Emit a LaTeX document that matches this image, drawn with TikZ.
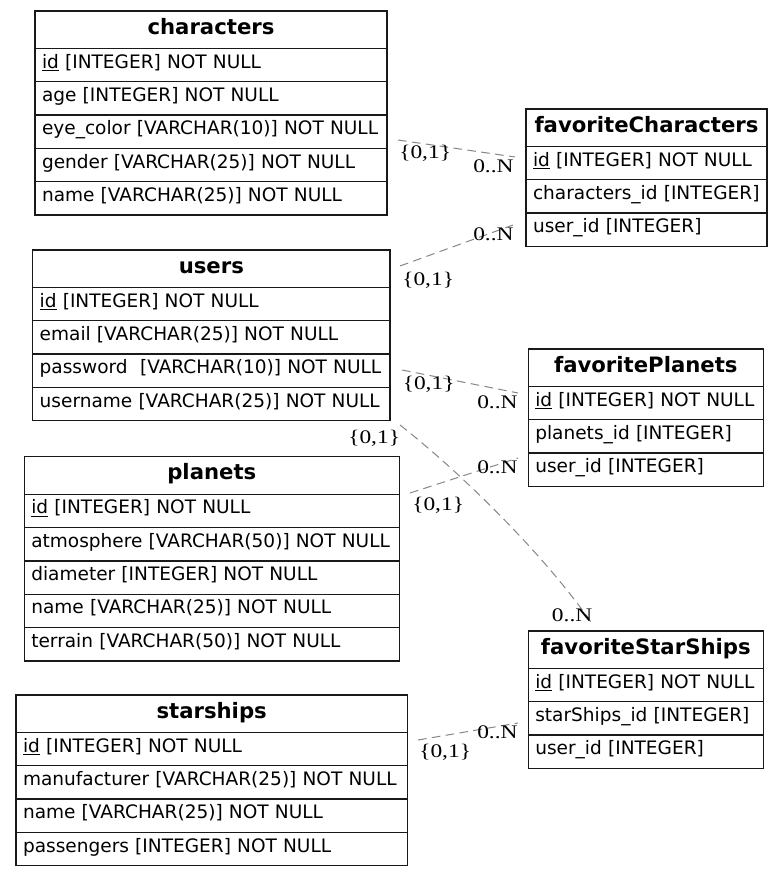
\documentclass[tikz,border=0pt]{standalone}
\usepackage{fontspec}
\setmainfont{DejaVu Sans}
\newfontfamily\lblfont[FakeStretch=1.22]{Liberation Serif}
\tikzset{
  tbl/.style={draw=black!90, line width=1pt, anchor=north west, inner xsep=5.25pt, inner ysep=0pt, outer sep=0pt},
  hdr/.style={tbl, minimum height=28.1pt, align=center,
    font=\fontsize{15.9pt}{18pt}\selectfont\bfseries, text height=10pt, text depth=3.2pt},
  fieldrow/.style={tbl, minimum height=25pt, align=left,
    font=\fontsize{13.9pt}{16pt}\selectfont, text height=10pt, text depth=5.5pt},
  card/.style={anchor=base west, inner sep=0pt, font=\lblfont\fontsize{14.4pt}{16pt}\selectfont},
  rel/.style={draw=black!47, line width=0.75pt, dash pattern=on 6.5pt off 4pt}
}
% #1 name, #2 title, #3 position, #4 text width, #5 rows
\newcommand\ertable[5]{%
  \node[hdr, text width=#4, alias=#1-0] (#1) at #3 {#2};
  \foreach \r [count=\i] in {#5} {%
    \pgfmathtruncatemacro\prev{\i-1}%
    \node[fieldrow, text width=#4] (#1-\i) at (#1-\prev.south west) {\r};
  }%
}
\begin{document}
\begin{tikzpicture}[x=0.75pt, y=-0.75pt]
\useasboundingbox (0,0) rectangle (783,877);
\fill[white] (0,0) rectangle (783,877);

\ertable{characters}{characters}{(35,11)}{253.5pt}{%
  \underline{id} [INTEGER] NOT NULL, age [INTEGER] NOT NULL,
  eye\_color [VARCHAR(10)] NOT NULL, gender [VARCHAR(25)] NOT NULL,
  name [VARCHAR(25)] NOT NULL}
\ertable{favoriteCharacters}{favoriteCharacters}{(526,109)}{170.25pt}{%
  \underline{id} [INTEGER] NOT NULL, characters\_id [INTEGER], user\_id [INTEGER]}
\ertable{users}{users}{(32.7,250)}{257.5pt}{%
  \underline{id} [INTEGER] NOT NULL, email [VARCHAR(25)] NOT NULL,
  password\ \ [VARCHAR(10)] NOT NULL, username [VARCHAR(25)] NOT NULL}
\ertable{favoritePlanets}{favoritePlanets}{(528.3,349)}{165.75pt}{%
  \underline{id} [INTEGER] NOT NULL, planets\_id [INTEGER], user\_id [INTEGER]}
\ertable{planets}{planets}{(24.3,456.7)}{270.75pt}{%
  \underline{id} [INTEGER] NOT NULL, atmosphere [VARCHAR(50)] NOT NULL,
  diameter [INTEGER] NOT NULL, name [VARCHAR(25)] NOT NULL,
  terrain [VARCHAR(50)] NOT NULL}
\ertable{favoriteStarShips}{favoriteStarShips}{(528.3,631)}{165.75pt}{%
  \underline{id} [INTEGER] NOT NULL, starShips\_id [INTEGER], user\_id [INTEGER]}
\ertable{starships}{starships}{(16,695)}{283pt}{%
  \underline{id} [INTEGER] NOT NULL, manufacturer [VARCHAR(25)] NOT NULL,
  name [VARCHAR(25)] NOT NULL, passengers [INTEGER] NOT NULL}

% connector end points
\coordinate (e1a) at (398,140);   \coordinate (e1b) at (515,157);
\coordinate (e2a) at (400,266);   \coordinate (e2b) at (513,225);
\coordinate (e3a) at (402,370);   \coordinate (e3b) at (518,393);
\coordinate (e4a) at (400,425);   \coordinate (e4b) at (593,625);
\coordinate (e5a) at (410,493);   \coordinate (e5b) at (518,458);
\coordinate (e6a) at (418,740);   \coordinate (e6b) at (518,723);

\draw[rel] (e1a) -- (e1b);
\draw[rel] (e2a) -- (e2b);
\draw[rel] (e3a) -- (e3b);
\draw[rel] (e4a) .. controls (460,472) and (545,555) .. (e4b);
\draw[rel] (e5a) -- (e5b);
\draw[rel] (e6a) -- (e6b);

% cardinality labels
\node[card] (l1a) at (399,158.5) {\{0,1\}};
\node[card] (l1b) at (473,172.5) {0..N};
\node[card] (l2b) at (473,240) {0..N};
\node[card] (l2a) at (402,285) {\{0,1\}};
\node[card] (l3a) at (402.5,389) {\{0,1\}};
\node[card] (l3b) at (477,408) {0..N};
\node[card] (l4a) at (348,443) {\{0,1\}};
\node[card] (l4b) at (551.7,621.5) {0..N};
\node[card] (l5b) at (477,473) {0..N};
\node[card] (l5a) at (412,510) {\{0,1\}};
\node[card] (l6b) at (477,738) {0..N};
\node[card] (l6a) at (419,757) {\{0,1\}};
\end{tikzpicture}
\end{document}
